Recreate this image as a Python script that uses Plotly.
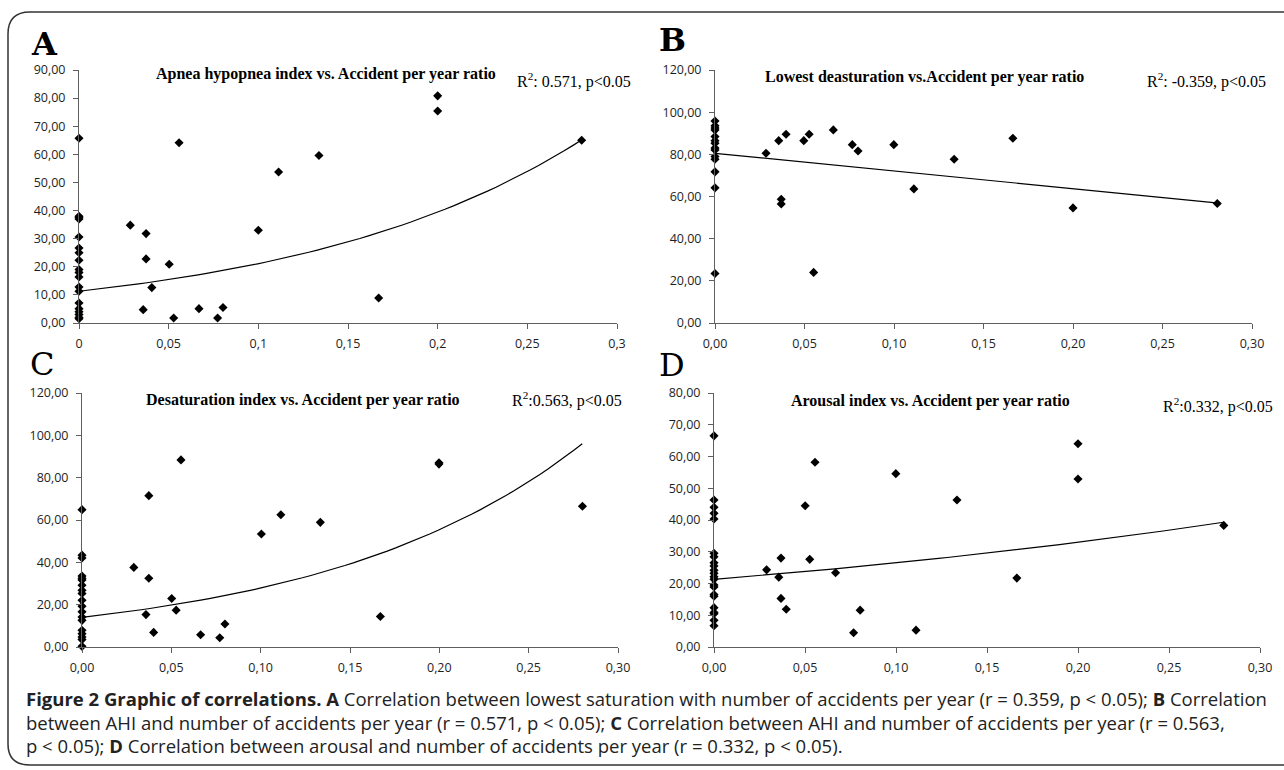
import math
import plotly.graph_objects as go

W, H = 1284, 770

# ---------------- data ----------------
# Panel A: Apnea hypopnea index vs accidents per year ratio
a_x = [0]*19 + [0.0286, 0.0358, 0.0374, 0.0374, 0.0406, 0.0503, 0.0528, 0.0558,
                0.0669, 0.0773, 0.0803, 0.1, 0.1113, 0.1338, 0.1671, 0.2, 0.2, 0.2803]
a_y = [65.7, 38, 37.5, 37, 30.6, 26.7, 25, 22.3, 19, 18, 16.4, 12.8, 11.3, 7.1, 5.1, 4, 3, 2, 1.5,
       34.8, 4.75, 31.8, 22.8, 12.6, 20.9, 1.8, 64.1, 5.1, 1.8, 5.5, 33, 53.7, 59.6, 8.9, 80.8, 75.4, 65]

# Panel B: Lowest desaturation vs accidents per year ratio
b_x = [0]*14 + [0.0285, 0.0356, 0.037, 0.037, 0.0397, 0.0496, 0.0526, 0.0551, 0.0661,
                0.0767, 0.0799, 0.0999, 0.1111, 0.1336, 0.1664, 0.2, 0.2806]
b_y = [95.8, 93.5, 92.5, 91.5, 88.4, 86.5, 85.3, 83, 82.1, 79, 77.7, 71.7, 64.1, 23.5,
       80.5, 86.5, 58.7, 56.5, 89.5, 86.5, 89.5, 24, 91.6, 84.6, 81.6, 84.6, 63.6, 77.7, 87.6, 54.6, 56.7]

# Panel C: Desaturation index vs accidents per year ratio
c_x = [0]*19 + [0.029, 0.0358, 0.0374, 0.0374, 0.0401, 0.0502, 0.0527, 0.0554, 0.0664,
                0.0771, 0.08, 0.1004, 0.1113, 0.1334, 0.167, 0.1998, 0.1998, 0.2801]
c_y = [64.9, 43.4, 42.1, 33.5, 32.5, 31.6, 29.2, 26.8, 25.3, 22.1, 19.3, 16.6, 14.2, 12.6, 7.9, 6.3, 4.7, 3.5, 0.3,
       37.6, 15.3, 71.5, 32.5, 6.9, 22.9, 17.4, 88.4, 5.8, 4.4, 10.9, 53.4, 62.5, 58.9, 14.4, 87, 86.4, 66.5]

# Panel D: Arousal index vs accidents per year ratio
d_x = [0]*22 + [0.0289, 0.0356, 0.0368, 0.0368, 0.0397, 0.0501, 0.0526, 0.0555, 0.0668,
                0.0767, 0.0803, 0.0999, 0.111, 0.1335, 0.1664, 0.2, 0.2, 0.2801]
d_y = [66.5, 46.3, 44, 42.1, 40.3, 29.5, 28.4, 26.5, 25.5, 24.2, 23.2, 22.1, 21.3, 19.5, 18.9, 16.5, 16, 12.4,
       10.9, 10.5, 8.4, 6.7,
       24.3, 22, 28, 15.3, 11.9, 44.5, 27.6, 58.2, 23.4, 4.5, 11.6, 54.6, 5.3, 46.3, 21.7, 64, 52.9, 38.3]

# Trend lines (Excel trendlines): value at x=0 and at x=0.28
trend_x_end = 0.28
a_trend = [11.3, 65.0]    # exponential
b_trend = [80.5, 57.0]    # linear
c_trend = [14.0, 96.0]    # exponential
d_trend = [21.3, 39.3]    # exponential

titles = ["Apnea hypopnea index vs. Accident per year ratio",
          "Lowest deasturation vs.Accident per year ratio",
          "Desaturation index vs. Accident per year ratio",
          "Arousal index vs. Accident per year ratio"]
stats = ["R<sup>2</sup>: 0.571, p&lt;0.05", "R<sup>2</sup>: -0.359, p&lt;0.05",
         "R<sup>2</sup>:0.563, p&lt;0.05", "R<sup>2</sup>:0.332, p&lt;0.05"]
letters = ["A", "B", "C", "D"]

x_ticks = [0, 0.05, 0.1, 0.15, 0.2, 0.25, 0.3]
x_ticktext_a = ["0", "0,05", "0,1", "0,15", "0,2", "0,25", "0,3"]
x_ticktext = ["0,00", "0,05", "0,10", "0,15", "0,20", "0,25", "0,30"]
y_ticks_a = [0, 10, 20, 30, 40, 50, 60, 70, 80, 90]
y_ticks_bc = [0, 20, 40, 60, 80, 100, 120]
y_ticks_d = [0, 10, 20, 30, 40, 50, 60, 70, 80]

caption = [
    "<b>Figure 2 Graphic of correlations. A</b> Correlation between lowest saturation with number of accidents per year (r = 0.359, p &lt; 0.05); <b>B</b> Correlation",
    "between AHI and number of accidents per year (r = 0.571, p &lt; 0.05); <b>C</b> Correlation between AHI and number of accidents per year (r = 0.563,",
    "p &lt; 0.05); <b>D</b> Correlation between arousal and number of accidents per year (r = 0.332, p &lt; 0.05).",
]

# ---------------- layout helpers ----------------
def px(x):
    return x / W

def py(y):
    return 1 - y / H

# pixel boxes: (left, right, top, bottom)
boxes = [(79, 617, 70, 323), (715, 1252, 70, 323), (82, 618, 393, 647), (714, 1260, 393, 647)]
y_ranges = [[0, 90], [0, 120], [0, 120], [0, 80]]
y_tickvals = [y_ticks_a, y_ticks_bc, y_ticks_bc, y_ticks_d]
x_texts = [x_ticktext_a, x_ticktext, x_ticktext, x_ticktext]
title_pos = [(326, 74), (924, 77), (303, 400), (930, 401)]
stat_pos = [(633, 80), (1268, 80), (624, 400), (1275, 406)]
letter_pos = [(29, 44), (657, 40), (28, 364), (657, 365)]
letter_bold = [True, True, False, False]

datasets = [(a_x, a_y, a_trend, "exp"), (b_x, b_y, b_trend, "lin"),
            (c_x, c_y, c_trend, "exp"), (d_x, d_y, d_trend, "exp")]

fig = go.Figure()
axis_color = "#5f5f5f"
tick_font = dict(family="Open Sans", size=12.5, color="#1e1e1e")

n_trend = 60
for i, (xs, ys, tr, kind) in enumerate(datasets):
    sfx = "" if i == 0 else str(i + 1)
    fig.add_trace(go.Scatter(x=xs, y=ys, mode="markers", xaxis="x" + sfx, yaxis="y" + sfx,
                             marker=dict(symbol="diamond", size=7, color="black"),
                             cliponaxis=False, showlegend=False, hoverinfo="skip"))
    tx = [trend_x_end * k / (n_trend - 1) for k in range(n_trend)]
    if kind == "exp":
        b = math.log(tr[1] / tr[0]) / trend_x_end
        ty = [tr[0] * math.exp(b * t) for t in tx]
    else:
        s = (tr[1] - tr[0]) / trend_x_end
        ty = [tr[0] + s * t for t in tx]
    fig.add_trace(go.Scatter(x=tx, y=ty, mode="lines", xaxis="x" + sfx, yaxis="y" + sfx,
                             line=dict(color="black", width=1.2), showlegend=False,
                             hoverinfo="skip", cliponaxis=False))

    l, r, t, btm = boxes[i]
    common = dict(showline=True, linecolor=axis_color, linewidth=1, ticks="outside",
                  ticklen=5, tickcolor=axis_color, showgrid=False, zeroline=False,
                  tickfont=tick_font, automargin=False)
    fig.layout["xaxis" + sfx] = dict(domain=[px(l), px(r)], range=[0, 0.3],
                                     anchor="y" + sfx, tickvals=x_ticks, ticktext=x_texts[i],
                                     ticklabelstandoff=4, **common)
    fig.layout["yaxis" + sfx] = dict(domain=[py(btm), py(t)], range=y_ranges[i],
                                     anchor="x" + sfx, tickvals=y_tickvals[i],
                                     ticktext=[f"{v},00" for v in y_tickvals[i]],
                                     ticklabelstandoff=5, **common)

annotations = []
for i in range(4):
    tx, ty = title_pos[i]
    annotations.append(dict(text="<b>" + titles[i] + "</b>", x=px(tx), y=py(ty), xref="paper",
                            yref="paper", xanchor="center", yanchor="middle", showarrow=False,
                            font=dict(family="Liberation Serif", size=16, color="black")))
    sx, sy = stat_pos[i]
    annotations.append(dict(text=stats[i], x=px(sx), y=py(sy), xref="paper", yref="paper",
                            xanchor="right", yanchor="middle", showarrow=False,
                            font=dict(family="Liberation Serif", size=16, color="black")))
    lx, ly = letter_pos[i]
    annotations.append(dict(text=("<b>%s</b>" if letter_bold[i] else "%s") % letters[i],
                            x=px(lx), y=py(ly), xref="paper", yref="paper", xanchor="left",
                            yanchor="middle", showarrow=False,
                            font=dict(family="DejaVu Serif", size=32, color="black")))

cap_y = [698, 722, 745]
for line, cy in zip(caption, cap_y):
    annotations.append(dict(text=line, x=px(24), y=py(cy), xref="paper", yref="paper",
                            xanchor="left", yanchor="middle", showarrow=False, align="left",
                            font=dict(family="Open Sans", size=18.5, color="#222")))

# rounded border (open on the right)
def pt(x, y):
    return f"{px(x):.5f},{py(y):.5f}"

border = ("M " + pt(1300, 12) + " L " + pt(30, 12) + " Q " + pt(8, 12) + " " + pt(8, 34) +
          " L " + pt(8, 744) + " Q " + pt(8, 765) + " " + pt(30, 765) + " L " + pt(1300, 765))

fig.update_layout(width=W, height=H, margin=dict(l=0, r=0, t=0, b=0),
                  paper_bgcolor="white", plot_bgcolor="white",
                  annotations=annotations,
                  shapes=[dict(type="path", path=border, xref="paper", yref="paper",
                               line=dict(color="#333", width=1.5))])

fig.write_html("out.html", config={"displayModeBar": False},
               post_script="document.body.style.margin='0';document.body.style.overflow='hidden';")
